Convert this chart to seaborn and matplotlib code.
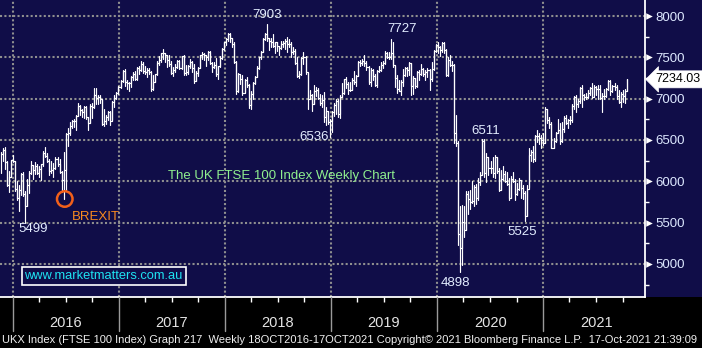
import numpy as np
import pandas as pd
import matplotlib
matplotlib.use("Agg")
import matplotlib.pyplot as plt
import matplotlib.transforms as mtransforms
from matplotlib.patches import Rectangle
import seaborn as sns

# ---------------- data (weekly FTSE 100) ----------------
first_week = "2015-11-20"

close = [
    # 2015 (Nov 20 - Jan 1)
    6334, 6375, 6238, 5952, 6052, 6254, 6242,
    # 2016
    5912, 5804, 5900, 6083, 5848, 5707, 5950, 6097, 6199, 6140, 6189, 6106, 6146,
    6204, 6343, 6310, 6242, 6125, 6138, 6156, 6271, 6209, 6116, 6021, 6138, 6577,
    6590, 6669, 6730, 6724, 6793, 6916, 6859, 6838, 6895, 6777, 6710, 6910, 6899,
    7044, 7014, 7020, 6996, 6693, 6730, 6775, 6840, 6730, 6954, 7011, 7068, 7142,
    # 2017
    7210, 7338, 7198, 7184, 7188, 7258, 7300, 7243, 7374, 7343, 7425, 7337, 7323,
    7349, 7327, 7115, 7204, 7297, 7435, 7471, 7548, 7547, 7527, 7464, 7424, 7313,
    7351, 7378, 7453, 7368, 7511, 7310, 7324, 7401, 7439, 7377, 7215, 7311, 7373,
    7523, 7535, 7523, 7505, 7560, 7433, 7380, 7409, 7300, 7394, 7490, 7603, 7688,
    # 2018
    7724, 7778, 7730, 7666, 7443, 7092, 7294, 7244, 7069, 7224, 7164, 6922, 7057,
    7184, 7265, 7368, 7502, 7567, 7725, 7779, 7730, 7701, 7681, 7634, 7682, 7637,
    7617, 7662, 7679, 7701, 7659, 7667, 7559, 7577, 7432, 7278, 7304, 7490, 7510,
    7318, 6996, 7050, 6940, 7094, 7105, 7014, 6953, 6980, 6778, 6845, 6721, 6734,
    # 2019
    6837, 6918, 6968, 6809, 7020, 7071, 7236, 7178, 7106, 7104, 7228, 7207, 7279,
    7447, 7437, 7459, 7428, 7380, 7203, 7348, 7277, 7162, 7332, 7346, 7407, 7426,
    7553, 7506, 7508, 7549, 7407, 7254, 7117, 7095, 7207, 7282, 7367, 7345, 7426,
    7155, 7247, 7150, 7324, 7302, 7359, 7302, 7326, 7346, 7240, 7353, 7582, 7645,
    # 2020
    7623, 7588, 7675, 7586, 7286, 7467, 7409, 7404, 6581, 6463, 5366, 5191, 5510,
    5416, 5843, 5787, 5752, 5763, 5936, 5800, 5993, 6077, 6484, 6105, 6293, 6159,
    6157, 6095, 6290, 6124, 5898, 6032, 6090, 6002, 5964, 5800, 6032, 6007, 5843,
    5902, 6017, 5920, 5860, 5577, 5910, 6316, 6351, 6266, 6550, 6547, 6529, 6502,
    6461,
    # 2021
    6873, 6736, 6695, 6407, 6489, 6589, 6624, 6483, 6631, 6761, 6709, 6741, 6737,
    6916, 7020, 6938, 6970, 7130, 7044, 7018, 7023, 7069, 7134, 7017, 7136, 7123,
    7122, 7008, 7028, 7032, 7123, 7219, 7088, 7149, 7138, 7029, 6963, 7051, 7027,
    7096, 7234,
]

high = [
    6350, 6400, 6420, 6240, 6130, 6260, 6315,
    6240, 6000, 5950, 6100, 6110, 5880, 6030, 6120, 6250, 6200, 6230, 6210, 6180,
    6210, 6370, 6420, 6340, 6270, 6240, 6220, 6290, 6290, 6270, 6120, 6360, 6580,
    6640, 6720, 6740, 6750, 6800, 6950, 6920, 6880, 6910, 6910, 6780, 6940, 6950,
    7130, 7129, 7040, 7050, 7000, 6880, 6800, 6850, 6850, 6970, 7040, 7080, 7150,
    7230, 7350, 7360, 7220, 7200, 7280, 7320, 7330, 7380, 7390, 7450, 7440, 7400,
    7370, 7370, 7330, 7290, 7300, 7450, 7520, 7550, 7600, 7550, 7530, 7530, 7460,
    7380, 7420, 7470, 7470, 7520, 7530, 7410, 7410, 7480, 7450, 7420, 7330, 7380,
    7530, 7560, 7550, 7530, 7580, 7580, 7440, 7440, 7490, 7400, 7520, 7610, 7690,
    7730, 7792, 7790, 7740, 7680, 7450, 7310, 7290, 7290, 7240, 7260, 7180, 7090,
    7200, 7280, 7400, 7510, 7580, 7730, 7800, 7903, 7740, 7740, 7780, 7690, 7680,
    7640, 7700, 7700, 7720, 7750, 7720, 7680, 7630, 7600, 7500, 7340, 7500, 7560,
    7520, 7310, 7100, 7060, 7160, 7140, 7130, 7060, 7050, 7080, 6900, 6850, 6760,
    6850, 6950, 6990, 6990, 7040, 7190, 7240, 7260, 7200, 7200, 7250, 7330, 7290,
    7460, 7470, 7480, 7530, 7460, 7390, 7370, 7360, 7300, 7350, 7390, 7440, 7450,
    7580, 7570, 7560, 7727, 7690, 7400, 7290, 7230, 7230, 7360, 7380, 7380, 7440,
    7430, 7270, 7250, 7340, 7350, 7420, 7370, 7350, 7370, 7360, 7440, 7590, 7660,
    7690, 7640, 7690, 7680, 7600, 7500, 7530, 7460, 7420, 6800, 6490, 5700, 5710,
    5700, 5880, 5880, 5890, 6000, 5950, 5970, 6040, 6110, 6510, 6511, 6340, 6290,
    6250, 6290, 6320, 6290, 6160, 6140, 6190, 6130, 6110, 6040, 6060, 6110, 6030,
    5980, 6040, 6020, 5960, 5880, 5950, 6400, 6380, 6430, 6560, 6620, 6580, 6560,
    6580,
    6900, 6880, 6780, 6720, 6530, 6600, 6760, 6700, 6720, 6790, 6800, 6760, 6790,
    6930, 7030, 7040, 7000, 7140, 7160, 7060, 7070, 7110, 7140, 7190, 7160, 7150,
    7160, 7160, 7070, 7120, 7130, 7230, 7220, 7160, 7190, 7170, 7100, 7080, 7110,
    7120, 7239,
]

low = [
    6100, 6250, 6150, 5940, 5870, 6050, 6230,
    5880, 5770, 5640, 5830, 5820, 5499, 5700, 5860, 6090, 6030, 6090, 6090, 6050,
    6020, 6190, 6290, 6230, 6080, 6100, 6050, 6150, 6180, 6100, 5870, 5788, 5900,
    6430, 6560, 6640, 6660, 6620, 6790, 6800, 6780, 6770, 6760, 6620, 6700, 6770,
    6890, 6930, 6940, 6950, 6680, 6670, 6690, 6740, 6680, 6740, 6900, 6990, 7060,
    7130, 7200, 7150, 7120, 7090, 7140, 7230, 7230, 7230, 7300, 7330, 7310, 7300,
    7260, 7300, 7090, 7110, 7200, 7290, 7410, 7440, 7480, 7440, 7380, 7400, 7300,
    7280, 7320, 7370, 7360, 7360, 7290, 7290, 7300, 7370, 7320, 7190, 7210, 7270,
    7370, 7480, 7470, 7400, 7470, 7420, 7320, 7370, 7280, 7240, 7380, 7480, 7590,
    7650, 7700, 7690, 7630, 7430, 7060, 7080, 7180, 7040, 7080, 7140, 6890, 6870,
    7000, 7180, 7260, 7360, 7480, 7560, 7710, 7700, 7590, 7620, 7620, 7550, 7580,
    7530, 7600, 7620, 7600, 7570, 7620, 7500, 7540, 7420, 7260, 7250, 7290, 7420,
    7300, 6870, 6990, 6850, 6930, 7030, 6990, 6920, 6900, 6720, 6680, 6690, 6536,
    6600, 6790, 6820, 6780, 6770, 7020, 7060, 7130, 7060, 7090, 7100, 7180, 7150,
    7270, 7400, 7410, 7400, 7350, 7180, 7150, 7220, 7150, 7140, 7320, 7330, 7370,
    7420, 7490, 7480, 7480, 7380, 7140, 7070, 7090, 7040, 7150, 7280, 7280, 7290,
    7040, 7060, 7130, 7140, 7230, 7290, 7270, 7230, 7260, 7110, 7210, 7350, 7560,
    7550, 7520, 7570, 7550, 7270, 7280, 7390, 7330, 6460, 6430, 5230, 4898, 4990,
    5330, 5410, 5600, 5660, 5740, 5700, 5730, 5770, 5960, 6080, 6050, 5990, 6080,
    6100, 6050, 6040, 6100, 5880, 5890, 6020, 5990, 5950, 5770, 5800, 5990, 5770,
    5840, 5890, 5800, 5780, 5525, 5580, 5930, 6250, 6230, 6250, 6480, 6450, 6400,
    6440,
    6460, 6710, 6650, 6400, 6400, 6470, 6590, 6450, 6470, 6600, 6690, 6640, 6690,
    6720, 6870, 6840, 6900, 6950, 6900, 6980, 6990, 7010, 7050, 7010, 7040, 7050,
    6990, 6990, 6840, 6990, 7020, 7100, 7040, 7080, 7100, 7000, 6950, 6900, 6960,
    6950, 7090,
]

y_ticks = [5000, 5500, 6000, 6500, 7000, 7500, 8000]
year_labels = ["2016", "2017", "2018", "2019", "2020", "2021"]
extreme_labels = ["7903", "7727", "6536", "6511", "5525", "4898", "5499"]
last_price_label = "7234.03"
chart_title = "The UK FTSE 100 Index Weekly Chart"
event_label = "BREXIT"
website = "www.marketmatters.com.au"
footer = ("UKX Index (FTSE 100 Index) Graph 217  Weekly 18OCT2016-17OCT2021 "
          "Copyright\u00a9 2021 Bloomberg Finance L.P.  17-Oct-2021 21:39:09")

# ---------------- frames ----------------
dates = pd.date_range(first_week, periods=len(close), freq="W-FRI")
df = pd.DataFrame({"date": dates, "high": high, "low": low, "close": close})
df["wk"] = np.arange(len(df))
rng = pd.concat([
    df[["date", "wk", "low"]].rename(columns={"low": "price"}),
    df[["date", "wk", "high"]].rename(columns={"high": "price"}),
]).sort_values(["wk", "price"])

# ---------------- style ----------------
NAVY = "#100d48"
sns.set_theme(style="dark", rc={"axes.facecolor": NAVY, "figure.facecolor": NAVY})
plt.rcParams["font.family"] = ["Liberation Sans", "DejaVu Sans"]

W, H = 702, 348
fig = plt.figure(figsize=(W / 100, H / 100), dpi=100)
fig.patch.set_facecolor(NAVY)
fig.patches.append(Rectangle((0, 0), 1, 1 - 297 / H, transform=fig.transFigure,
                             facecolor="black", edgecolor="none", zorder=-5))
ax = fig.add_axes([0, 1 - 297 / H, 645 / W, 297 / H])
ax.set_facecolor(NAVY)

# weekly bars: high-low range + close steps
sns.lineplot(data=rng, x="date", y="price", units="wk", estimator=None, sort=False,
             color="white", lw=0.85, ax=ax, legend=False)
sns.lineplot(data=df, x="date", y="close", color="white", lw=0.85, ax=ax,
             drawstyle="steps-post", legend=False)

x0, x1 = pd.Timestamp("2015-11-18"), pd.Timestamp("2021-12-17")
ax.set_xlim(x0, x1)
ax.set_ylim(4600, 8194)
ax.set_xlabel("")
ax.set_ylabel("")

# grid
grid_kw = dict(color="#8f8f8f", lw=1.5, ls=(0, (1, 1.1)), zorder=0.5)
for v in y_ticks:
    ax.axhline(v, **grid_kw)
years = [pd.Timestamp(f"{y}-01-01") for y in year_labels]
for d in years:
    ax.axvline(d, **grid_kw)

# spines
for s in ["top", "left"]:
    ax.spines[s].set_visible(False)
for s in ["right", "bottom"]:
    ax.spines[s].set_visible(True)
    ax.spines[s].set_color("white")
    ax.spines[s].set_linewidth(1.3)

# y axis on the right
ax.yaxis.tick_right()
ax.set_yticks(y_ticks)
ax.set_yticklabels([str(v) for v in y_ticks])
ax.set_yticks(np.arange(4750, 8200, 250), minor=True)
ax.tick_params(axis="y", which="major", length=0, pad=7.5, labelsize=9.5,
               labelcolor="#dde8ff")
ax.tick_params(axis="y", which="minor", length=3, width=1, color="white",
               direction="out", right=True)
tri_tr = mtransforms.blended_transform_factory(ax.transAxes, ax.transData) + \
    mtransforms.ScaledTranslation(3.5 / 100, 0, fig.dpi_scale_trans)
ax.scatter([1.0] * len(y_ticks), y_ticks, marker=">", s=22, color="white",
           transform=tri_tr, clip_on=False, zorder=5, linewidths=0)

# x axis: year labels in the black band, quarter ticks
mids = [pd.Timestamp(f"{y}-07-02") for y in year_labels]
ax.set_xticks(mids)
ax.set_xticklabels(year_labels)
quarters = pd.date_range("2016-04-01", "2021-12-01", freq="QS")
quarters = [q for q in quarters if q.month != 1]
ax.set_xticks(quarters, minor=True)
ax.tick_params(axis="x", which="major", length=0, pad=13.5, labelsize=10.5,
               labelcolor="#e4e4e4", bottom=False, labelbottom=True)
ax.tick_params(axis="x", which="minor", length=3.5, width=1, color="white",
               direction="out", bottom=True)
sep_tr = mtransforms.blended_transform_factory(ax.transData, ax.transAxes)
for d in years:
    ax.plot([d, d], [0, -34 / 297], color="#9a9a9a", lw=1.0, transform=sep_tr,
            clip_on=False, zorder=3)

# footer
fig.text(0.003, 1 - 340 / H, footer, color="#f0f0f0", fontsize=8.0,
         ha="left", va="center")

# last price flag
ax.annotate(last_price_label, xy=(1.0, 7234), xycoords=("axes fraction", "data"),
            xytext=(10, 0), textcoords="offset pixels", ha="left", va="center",
            fontsize=9, color="black", annotation_clip=False,
            bbox=dict(boxstyle="larrow,pad=0.2", fc="white", ec="white", lw=0.5))

# annotations
num_kw = dict(color="#e2ecff", fontsize=9.5, ha="center", va="center")
label_pos = [
    (pd.Timestamp("2018-05-27"), 8012),
    (pd.Timestamp("2019-09-04"), 7843),
    (pd.Timestamp("2018-11-05"), 6536),
    (pd.Timestamp("2020-06-15"), 6608),
    (pd.Timestamp("2020-10-20"), 5386),
    (pd.Timestamp("2020-03-04"), 4769),
    (pd.Timestamp("2016-03-10"), 5423),
]
for txt, (d, v) in zip(extreme_labels, label_pos):
    ax.text(d, v, txt, **num_kw)

ax.scatter([pd.Timestamp("2016-06-28")], [5786], s=125, facecolors="none",
           edgecolors="#f2601a", linewidths=1.8, zorder=6)
ax.text(pd.Timestamp("2016-07-22"), 5568, event_label, color="#f98a1f",
        fontsize=9.5, ha="left", va="center")
ax.text(pd.Timestamp("2018-07-15"), 6064, chart_title, color="#8ff08f",
        fontsize=9.5, ha="center", va="center")
ax.text(pd.Timestamp("2016-11-09"), 4854, website, color="#1ee3f2",
        fontsize=9.3, ha="center", va="center",
        bbox=dict(boxstyle="square,pad=0.22", fc=NAVY, ec="white", lw=1.2))

fig.savefig("out.png", dpi=100, facecolor=fig.get_facecolor())
